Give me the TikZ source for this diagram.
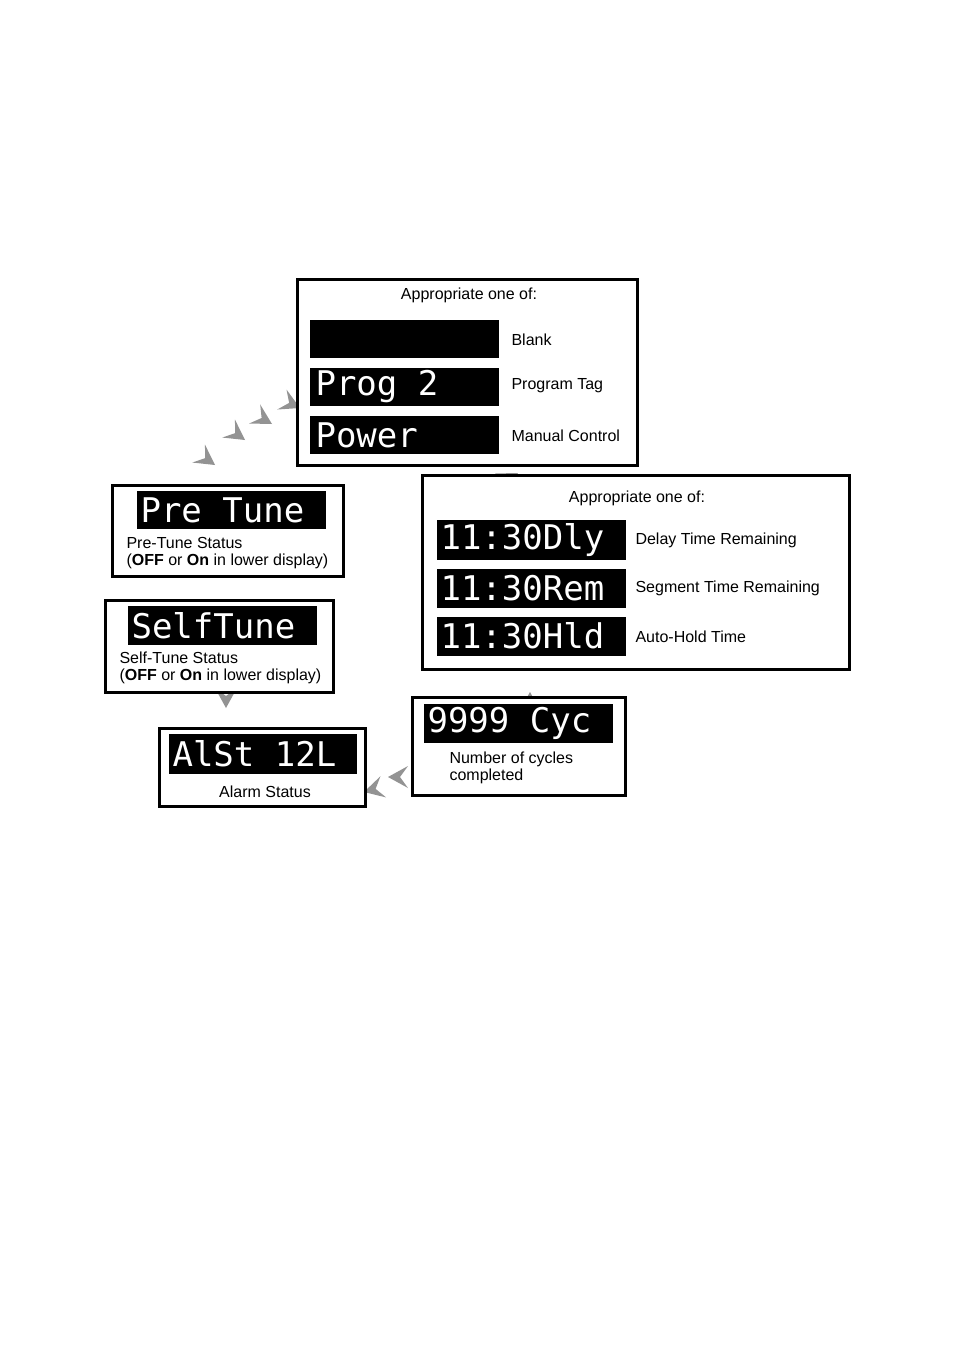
\documentclass[tikz,border=0pt]{standalone}
\usepackage{fontspec}
\setmainfont{Liberation Sans}
\newfontfamily\dotfont{DejaVu Sans Mono}
\begin{document}
\begin{tikzpicture}[x=1pt,y=-1pt,
  box/.style={draw=black,line width=3pt,fill=white},
  disp/.style={fill=black},
  dtxt/.style={anchor=west,text=white,font=\dotfont\fontsize{34}{34}\selectfont},
  lbl/.style={anchor=west,font=\fontsize{16}{17}\selectfont},
  ttl/.style={font=\fontsize{16}{17}\selectfont},
  chev/.style={fill=gray!85,draw=none}]
\useasboundingbox (0,0) rectangle (954,1351);
\newcommand{\chevr}[3]{\fill[chev,shift={(#1,#2)},rotate=#3] (0,0) -- (-20,-11) -- (-12,0) -- (-20,11) -- cycle;}
% chevrons (behind boxes)
\chevr{215}{465}{-35}
\chevr{245}{440}{-35}
\chevr{272}{424}{-30}
\chevr{300}{408}{-25}
\chevr{518}{473}{30}
\chevr{530}{692}{90}
\chevr{388}{777}{180}
\chevr{364}{792}{195}
\chevr{226}{708}{-90}
% top box
\draw[box] (297,279) rectangle (637,465);
\node[ttl] (t1) at (469,295) {Appropriate one of:};
\fill[disp] (310,320) rectangle (499,358);
\fill[disp] (310,368) rectangle (499,406);
\node[dtxt] (d2) at (312,387) {Prog 2};
\fill[disp] (310,416) rectangle (499,454);
\node[dtxt] (d3) at (312,435) {Power};
\node[lbl] (l1) at (508,340) {Blank};
\node[lbl] (l2) at (508,386) {Program Tag};
\node[lbl] (l3) at (508,436) {Manual Control};
% right box
\draw[box] (422,475) rectangle (849,669);
\node[ttl] (t2) at (637,498) {Appropriate one of:};
\fill[disp] (437,520) rectangle (626,560);
\node[dtxt] (e1) at (437,540) {11:30Dly};
\fill[disp] (437,569) rectangle (626,608);
\node[dtxt] (e2) at (437,588) {11:30Rem};
\fill[disp] (437,617) rectangle (626,656);
\node[dtxt] (e3) at (437,636) {11:30Hld};
\node[lbl] (m1) at (632,540) {Delay Time Remaining};
\node[lbl] (m2) at (632,588) {Segment Time Remaining};
\node[lbl] (m3) at (632,637) {Auto-Hold Time};
% cycles
\draw[box] (412,697) rectangle (625,795);
\fill[disp] (424,704) rectangle (613,743);
\node[dtxt] (c1) at (424,723) {9999 Cyc};
\node[lbl,align=left,font=\fontsize{16}{17}\selectfont] (c2) at (446,768) {Number of cycles\\completed};
% alarm
\draw[box] (159,728) rectangle (365,806);
\fill[disp] (169,734) rectangle (357,774);
\node[dtxt] (a1) at (169,754) {AlSt 12L};
\node[ttl] (a2) at (265,792) {Alarm Status};
% selftune
\draw[box] (105,600) rectangle (333,692);
\fill[disp] (128,606) rectangle (317,645);
\node[dtxt] (s1) at (128,626) {SelfTune};
\node[lbl,align=left] (s2) at (116,668) {Self-Tune Status\\(\textbf{OFF} or \textbf{On} in lower display)};
% pretune
\draw[box] (112,485) rectangle (343,576);
\fill[disp] (137,491) rectangle (326,529);
\node[dtxt] (p1) at (137,510) {Pre Tune};
\node[lbl,align=left] (p2) at (123,553) {Pre-Tune Status\\(\textbf{OFF} or \textbf{On} in lower display)};
\end{tikzpicture}
\end{document}
